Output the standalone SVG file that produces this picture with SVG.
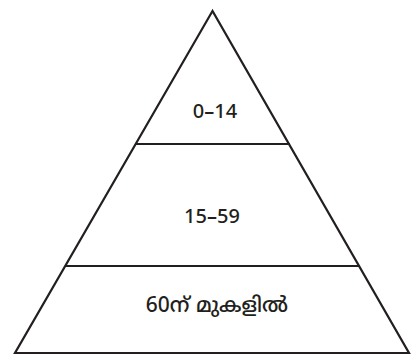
<svg xmlns="http://www.w3.org/2000/svg" width="416" height="360" viewBox="0 0 416 360">
<style>
.ln{stroke:#231f20;stroke-width:2.2;fill:none;stroke-linejoin:miter}
.t{font-family:"Noto Sans Malayalam","Noto Sans","DejaVu Sans",sans-serif;font-size:20px;font-weight:500;fill:#231f20;text-anchor:middle}
.m{font-size:21px}
</style>
<rect width="416" height="360" fill="#ffffff"/>
<g id="connectors">
<polygon class="ln" points="212.5,11 15,353 409,353"/>
<line class="ln" x1="135" y1="144" x2="290" y2="144"/>
<line class="ln" x1="65" y1="266" x2="360" y2="266"/>
</g>
<g id="node-top"><text class="t" x="215" y="118">0–14</text></g>
<g id="node-middle"><text class="t" x="212" y="223">15–59</text></g>
<g id="node-bottom"><text class="t m" x="217" y="312">60ന് മുകളിൽ</text></g>
</svg>
